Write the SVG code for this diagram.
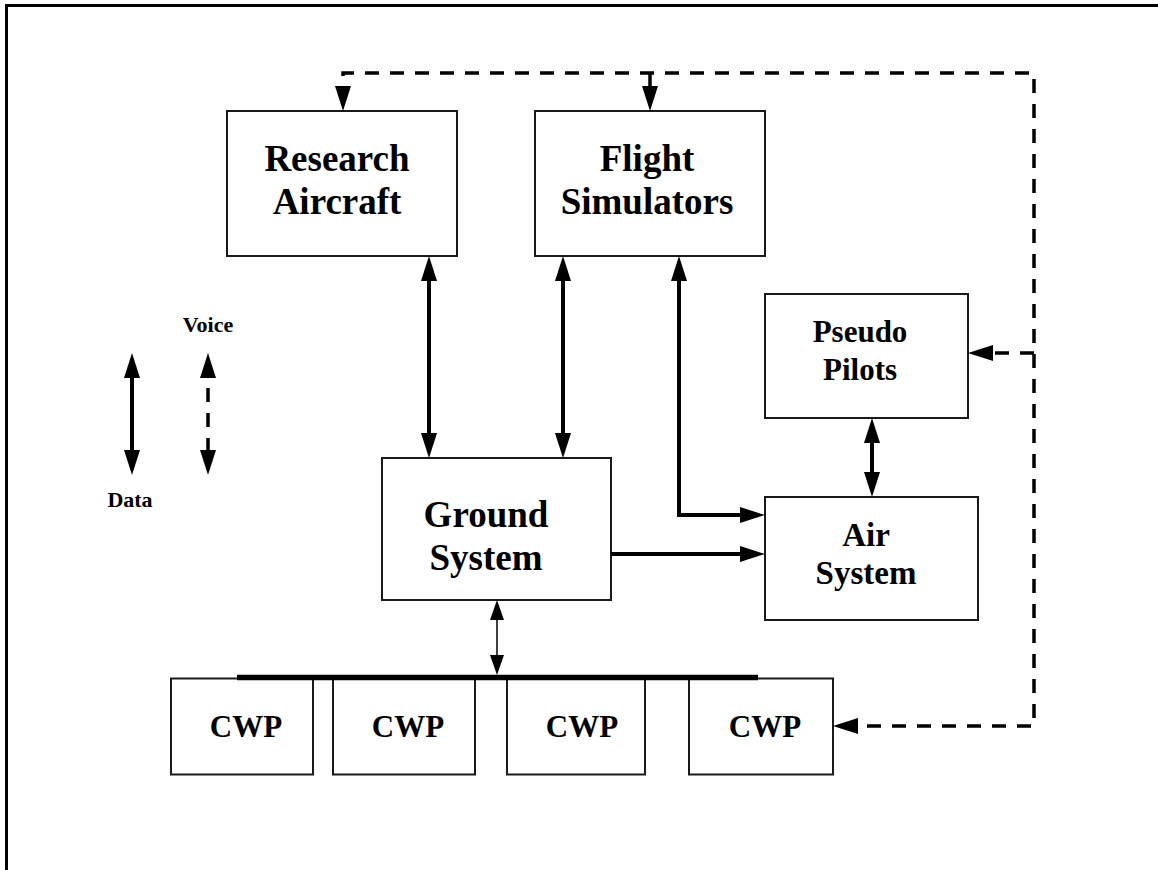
<svg xmlns="http://www.w3.org/2000/svg" width="1158" height="870" viewBox="0 0 1158 870">
  <style>
    .box { fill: #ffffff; stroke: #1a1a1a; stroke-width: 2; }
    .lbl { font-family: "Liberation Serif", "Times New Roman", serif; font-weight: bold; fill: #000; text-anchor: middle; }
    .data { fill: none; stroke: #000; stroke-width: 4; marker-start: url(#head); marker-end: url(#head); }
    .data1 { fill: none; stroke: #000; stroke-width: 4; marker-end: url(#head); }
    .voice { fill: none; stroke: #000; stroke-width: 3.5; stroke-dasharray: 14 11; }
    .bus { fill: none; stroke: #000; stroke-width: 5.5; }
    .thin { fill: none; stroke: #000; stroke-width: 1.5; marker-start: url(#small); marker-end: url(#small); }
  </style>
  <defs>
    <marker id="head" markerUnits="userSpaceOnUse" markerWidth="26" markerHeight="17" refX="15" refY="8" orient="auto-start-reverse" overflow="visible">
      <path d="M0,0 L25,8 L0,16 z" fill="#000"/>
    </marker>
    <marker id="small" markerUnits="userSpaceOnUse" markerWidth="21" markerHeight="15" refX="14" refY="7" orient="auto-start-reverse" overflow="visible">
      <path d="M0,0 L20,7 L0,14 z" fill="#000"/>
    </marker>
  </defs>

  <!-- frame -->
  <path d="M6.5,870 V5.5 H1158" fill="none" stroke="#000" stroke-width="3"/>

  <!-- legend -->
  <g id="legend">
    <text class="lbl" x="208" y="332" font-size="22">Voice</text>
    <text class="lbl" x="130" y="507" font-size="22">Data</text>
    <path class="data" d="M132,363 V465"/>
    <path class="voice" d="M208,363 V465" marker-start="url(#head)" marker-end="url(#head)"/>
  </g>

  <g id="research-aircraft">
    <rect class="box" x="227" y="111" width="230" height="145"/>
    <text class="lbl" x="337" y="171" font-size="37">Research</text>
    <text class="lbl" x="337" y="214" font-size="37">Aircraft</text>
  </g>

  <g id="flight-simulators">
    <rect class="box" x="535" y="111" width="230" height="145"/>
    <text class="lbl" x="647" y="171" font-size="37">Flight</text>
    <text class="lbl" x="647" y="214" font-size="37">Simulators</text>
  </g>

  <g id="pseudo-pilots">
    <rect class="box" x="765" y="294" width="203" height="124"/>
    <text class="lbl" x="860" y="342" font-size="31">Pseudo</text>
    <text class="lbl" x="860" y="380" font-size="31">Pilots</text>
  </g>

  <g id="ground-system">
    <rect class="box" x="382" y="458" width="229" height="142"/>
    <text class="lbl" x="486" y="527" font-size="37">Ground</text>
    <text class="lbl" x="486" y="570" font-size="37">System</text>
  </g>

  <g id="air-system">
    <rect class="box" x="765" y="497" width="213" height="123"/>
    <text class="lbl" x="866" y="546" font-size="33">Air</text>
    <text class="lbl" x="866" y="584" font-size="33">System</text>
  </g>

  <g id="cwp-1">
    <rect class="box" x="171" y="678.5" width="142" height="96"/>
    <text class="lbl" x="246" y="737" font-size="31">CWP</text>
  </g>
  <g id="cwp-2">
    <rect class="box" x="333" y="678.5" width="142" height="96"/>
    <text class="lbl" x="408" y="737" font-size="31">CWP</text>
  </g>
  <g id="cwp-3">
    <rect class="box" x="507" y="678.5" width="138" height="96"/>
    <text class="lbl" x="582" y="737" font-size="31">CWP</text>
  </g>
  <g id="cwp-4">
    <rect class="box" x="689" y="678.5" width="144" height="96"/>
    <text class="lbl" x="765" y="737" font-size="31">CWP</text>
  </g>

  <g id="connectors">
    <!-- data links -->
    <path class="data" d="M429,266 V448"/>
    <path class="data" d="M563,266 V448"/>
    <path class="data" d="M679,266 V515 H755"/>
    <path class="data" d="M872,428 V487"/>
    <path class="data1" d="M611,554 H755"/>
    <!-- controller workstation bus -->
    <path class="bus" d="M237,677.5 H758"/>
    <path class="thin" d="M497,606 V669"/>
    <!-- voice links -->
    <path class="voice" d="M343,101 V73 H1034 V726 H843" marker-start="url(#head)" marker-end="url(#head)"/>
    <path class="voice" d="M650,73 V101" stroke-dasharray="none" marker-end="url(#head)"/>
    <path class="voice" d="M1034,353 H978" stroke-dasharray="10 6" marker-end="url(#head)"/>
  </g>
</svg>
